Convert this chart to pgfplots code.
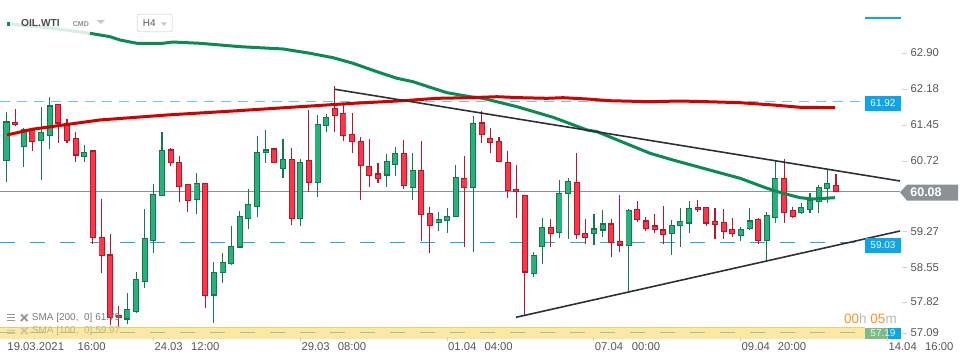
\documentclass[border=0pt]{standalone}
\usepackage{fontspec}
\setmainfont{Liberation Sans}
\usepackage{pgfplots}
\usepackage{pgfplotstable}
\pgfplotsset{compat=1.18}

\definecolor{gbody}{HTML}{26B27A}
\definecolor{gline}{HTML}{15774B}
\definecolor{rbody}{HTML}{FF3548}
\definecolor{rline}{HTML}{B3182C}
\definecolor{smag}{HTML}{0B8A52}
\definecolor{smagl}{HTML}{D6EDE1}
\definecolor{smar}{HTML}{D30000}
\definecolor{trend}{HTML}{2B3038}
\definecolor{lblue}{HTML}{66C7F2}
\definecolor{dblue}{HTML}{1CA9EC}
\definecolor{boxblue}{HTML}{0BA5E8}
\definecolor{pricegray}{HTML}{8A9298}
\definecolor{bandfill}{HTML}{FBE9A3}
\definecolor{bandline}{HTML}{F1D05E}
\definecolor{banddash}{HTML}{9CC49C}
\definecolor{txt}{HTML}{555555}
\definecolor{orng}{HTML}{F7941D}
\definecolor{hgray}{HTML}{B8B8B8}
\definecolor{leg}{HTML}{7A7A7A}
\definecolor{legf}{HTML}{C2B587}
\definecolor{ticklight}{HTML}{D0D0D0}
\definecolor{boxgreen}{HTML}{7DB98A}

\newcommand{\fs}[1]{\fontsize{#1bp}{#1bp}\selectfont}

% green (rising) candles: index, open, high, low, close
\pgfplotstableread{
i o h l c
0 60.70 61.70 60.27 61.49
2 60.99 61.37 60.58 61.33
4 61.11 61.79 60.31 61.28
5 61.22 62.01 60.95 61.82
9 60.79 61.02 60.68 60.87
14 57.47 58.01 57.37 57.67
15 57.63 58.43 57.60 58.28
16 58.23 59.71 58.10 59.12
17 59.07 60.23 58.82 60.02
18 59.99 61.28 59.98 60.91
22 59.91 60.46 59.61 60.24
24 57.96 58.63 57.40 58.42
25 58.42 58.81 58.20 58.63
26 58.61 59.37 58.57 58.96
27 58.94 59.68 58.92 59.57
28 59.52 60.12 59.31 59.81
29 59.76 61.21 59.56 60.87
30 60.87 61.33 60.66 60.92
32 60.55 61.15 60.34 60.73
34 59.53 60.73 59.36 60.67
36 60.26 61.64 59.97 61.45
37 61.42 61.65 61.29 61.59
44 60.41 60.84 60.17 60.69
45 60.63 60.98 60.40 60.85
47 60.16 60.85 59.90 60.51
50 59.45 59.65 59.27 59.51
51 59.48 59.74 59.22 59.57
52 59.56 60.61 59.55 60.36
54 60.16 61.62 58.83 61.47
61 58.40 58.83 58.32 58.76
62 58.95 59.53 58.59 59.34
64 59.24 60.31 59.13 60.04
65 60.04 60.36 59.10 60.27
68 59.22 59.61 58.99 59.31
69 59.29 59.70 59.14 59.41
72 58.98 59.71 58.05 59.68
77 59.22 59.49 58.78 59.38
78 59.38 59.74 58.95 59.46
79 59.43 59.88 59.22 59.73
85 59.18 59.34 59.07 59.29
86 59.32 59.73 59.29 59.47
88 59.08 59.65 58.64 59.58
89 59.55 60.72 59.44 60.34
92 59.65 59.83 59.62 59.75
93 59.71 60.04 59.63 59.90
94 59.87 60.21 59.63 60.15
95 60.14 60.53 59.83 60.23
}\greentab

% red (falling) candles
\pgfplotstableread{
i o h l c
1 61.49 61.76 61.41 61.44
3 61.33 61.35 60.91 61.10
6 61.85 61.86 61.06 61.47
7 61.45 61.55 61.07 61.11
8 61.16 61.28 60.68 60.82
10 60.90 60.92 59.00 59.14
11 59.14 59.93 58.42 58.76
12 58.78 59.21 57.35 57.51
13 57.54 57.74 57.31 57.51
19 60.92 60.97 60.60 60.67
20 60.67 60.80 59.85 60.18
21 60.22 60.23 59.66 59.89
23 60.24 60.25 57.69 57.95
31 60.94 60.94 60.66 60.67
33 60.73 60.96 59.38 59.53
35 60.71 61.74 60.07 60.26
38 61.77 62.23 61.29 61.62
39 61.67 61.89 61.11 61.22
40 61.23 61.67 60.87 61.09
41 61.10 61.18 59.90 60.60
42 60.59 61.15 60.17 60.40
43 60.43 60.66 60.24 60.34
46 60.85 61.13 60.12 60.19
48 60.51 61.11 59.07 59.61
49 59.63 59.75 58.81 59.38
53 60.34 60.80 58.95 60.16
55 61.47 61.72 61.07 61.23
56 61.16 61.38 60.87 61.08
57 61.10 61.18 60.67 60.68
58 60.67 60.90 59.95 60.09
59 60.12 60.62 59.54 60.07
60 59.99 60.00 57.55 58.43
63 59.34 59.51 58.94 59.22
66 60.26 60.85 59.10 59.20
67 59.22 59.51 59.00 59.14
70 59.41 59.51 58.73 59.04
71 59.06 60.00 58.83 58.98
73 59.71 59.88 59.45 59.51
74 59.47 59.56 59.27 59.32
75 59.37 59.62 59.23 59.30
76 59.29 59.78 59.00 59.19
80 59.75 59.90 59.66 59.71
81 59.75 59.76 59.37 59.43
82 59.47 59.73 59.10 59.41
83 59.44 59.71 59.10 59.25
84 59.30 59.54 59.15 59.22
87 59.51 59.53 59.00 59.08
90 60.34 60.73 59.43 59.65
91 59.68 59.75 59.53 59.56
96 60.19 60.43 60.07 60.08
}\redtab

\pgfplotsset{
  nomark/.style={only marks, mark=*, mark size=0pt, mark options={draw opacity=0, fill opacity=0}, forget plot},
  wick/.style={nomark,
    error bars/.cd, y dir=both, y explicit, error mark=none,
    error bar style={draw=#1, line width=1.1bp}},
  bodyout/.style={nomark,
    error bars/.cd, y dir=both, y explicit, error mark=none,
    error bar style={draw=#1, line width=6bp, line cap=butt}},
  bodyin/.style={nomark,
    error bars/.cd, y dir=both, y explicit, error mark=none,
    error bar style={draw=#1, line width=4.2bp, line cap=butt}},
}

\begin{document}
\begin{tikzpicture}
% bottom yellow band
\fill[bandfill] (0bp,25bp) rectangle (865bp,36.7bp);
\draw[bandline, line width=0.9bp] (0bp,36.7bp) -- (865bp,36.7bp);

\begin{axis}[at={(0bp,0bp)}, anchor=south west, scale only axis,
  width=970bp, height=364bp,
  xmin=-0.7523, xmax=111.5162, ymin=56.5530, ymax=63.9816,
  hide axis, clip=false]

% price levels
\addplot[pricegray, line width=1.1bp] coordinates {(-0.7523,60.08) (103.41,60.08)};
\addplot[lblue, line width=1bp, dash pattern=on 10bp off 7bp] coordinates {(-0.7523,61.92) (99.36,61.92)};
\addplot[dblue, line width=1bp, dash pattern=on 15bp off 15bp] coordinates {(-0.7523,59.03) (99.36,59.03)};
\addplot[banddash, line width=1bp, dash pattern=on 15bp off 15bp] coordinates {(-0.7523,57.19) (99.36,57.19)};

% wicks
\addplot[wick=gline] table[x=i, y expr={(\thisrow{h}+\thisrow{l})/2}, y error expr={(\thisrow{h}-\thisrow{l})/2}] {\greentab};
\addplot[wick=rline] table[x=i, y expr={(\thisrow{h}+\thisrow{l})/2}, y error expr={(\thisrow{h}-\thisrow{l})/2}] {\redtab};
% bodies
\addplot[bodyout=gline] table[x=i, y expr={(\thisrow{o}+\thisrow{c})/2}, y error expr={abs(\thisrow{c}-\thisrow{o})/2+0.012}] {\greentab};
\addplot[bodyin=gbody] table[x=i, y expr={(\thisrow{o}+\thisrow{c})/2}, y error expr={max(abs(\thisrow{c}-\thisrow{o})/2-0.012,0)}] {\greentab};
\addplot[bodyout=rline] table[x=i, y expr={(\thisrow{o}+\thisrow{c})/2}, y error expr={abs(\thisrow{c}-\thisrow{o})/2+0.012}] {\redtab};
\addplot[bodyin=rbody] table[x=i, y expr={(\thisrow{o}+\thisrow{c})/2}, y error expr={max(abs(\thisrow{c}-\thisrow{o})/2-0.012,0)}] {\redtab};

% SMA 100
\addplot[smagl, line width=3bp] coordinates {(0.405,63.492) (5.03,63.41) (9.66,63.302)};
\addplot[smag, line width=3bp, line join=round] coordinates {
(9.66,63.302) (11.98,63.233) (13.14,63.165) (15.10,63.098) (18.11,63.098)
(19.27,63.124) (22.40,63.098) (27.02,63.029) (32.00,62.982) (35.13,62.894)
(37.79,62.804) (40.10,62.690) (42.88,62.518) (45.19,62.384) (47.05,62.314)
(49.02,62.200) (50.98,62.090) (53.65,62.008) (55.15,61.975) (59.09,61.804)
(63.25,61.588) (67.19,61.329) (68.35,61.294) (74.48,60.853) (77.14,60.716)
(81.08,60.526) (84.90,60.343) (88.02,60.139) (89.87,60.037) (91.84,59.947)
(93.35,59.920) (95.89,59.947)};
% SMA 200
\addplot[smar, line width=3bp, line join=round] coordinates {
(0.06,61.227) (2.95,61.343) (7.00,61.441) (10.82,61.533) (18.58,61.635)
(26.22,61.716) (33.97,61.804) (40.10,61.873) (45.89,61.926) (49.83,61.975)
(53.65,61.988) (56.77,62.008) (59.43,61.988) (62.56,61.975) (64.41,61.988)
(67.19,61.961) (69.85,61.926) (74.48,61.906) (77.95,61.920) (81.08,61.906)
(84.90,61.886) (88.72,61.839) (91.84,61.792) (95.89,61.784)};
% triangle
\addplot[trend, line width=1.6bp] coordinates {(38.02,62.159) (103.41,60.288)};
\addplot[trend, line width=1.6bp] coordinates {(58.97,57.506) (103.41,59.267)};
\end{axis}

% header
\fill[smag] (6.7bp,338.3bp) rectangle (10bp,341.7bp);
\node[anchor=west, inner sep=0, text=black!70, font=\fs{10.2}\bfseries] at (21bp,341bp) {OIL.WTI};
\node[anchor=west, inner sep=0, text=black!45, font=\fs{7}\bfseries] at (72.7bp,339.8bp) {CMD};
\fill[black!22] (96.7bp,344bp) -- (105bp,344bp) -- (100.85bp,340bp) -- cycle;
\draw[black!14, rounded corners=2bp, line width=0.8bp] (137.3bp,332.3bp) rectangle (172.3bp,349.7bp);
\node[anchor=west, inner sep=0, text=black!65, font=\fs{10}] at (142.7bp,341bp) {H4};
\fill[black!22] (161bp,341.7bp) -- (166.7bp,341.7bp) -- (163.85bp,338bp) -- cycle;
\draw[boxblue, line width=2bp] (865bp,345.7bp) -- (901bp,345.7bp);

% right price scale
\foreach \yy/\lab in {311/62.90, 275/62.18, 239/61.45, 203/60.72, 132.3/59.27, 96.3/58.55, 62/57.82, 31/57.09}{
  \draw[ticklight, line width=0.8bp] (902bp,\yy bp) -- (907bp,\yy bp);
  \node[anchor=west, inner sep=0, text=txt, font=\fs{11.3}] at (910.5bp,\yy bp) {\lab};
}
\fill[boxblue] (865bp,253.3bp) rectangle (901bp,268bp);
\node[text=white, inner sep=0, font=\fs{10}] at (883bp,260.7bp) {61.92};
\fill[boxblue] (865bp,111.3bp) rectangle (901bp,125.7bp);
\node[text=white, inner sep=0, font=\fs{10}] at (883bp,118.5bp) {59.03};
\fill[boxgreen] (865bp,25bp) rectangle (888bp,36.3bp);
\fill[boxblue] (888bp,25bp) rectangle (901bp,36.3bp);
\node[text=white!90!green, inner sep=0, font=\fs{10}] at (883bp,30.6bp) {57.19};
\fill[pricegray] (900bp,171.7bp) -- (907bp,179.3bp) -- (958bp,179.3bp) -- (958bp,163.3bp) -- (907bp,163.3bp) -- cycle;
\node[text=white, inner sep=0, font=\fs{12.5}\bfseries] at (926bp,171.5bp) {60.08};

% countdown
\node[anchor=west, inner sep=0, font=\fs{13.5}] at (844bp,45bp) {\textcolor{orng}{00}\textcolor{hgray}{h} \textcolor{orng}{05}\textcolor{hgray}{m}};

% legend
\foreach \yy/\cc/\txt in {46.3/leg/{SMA [200,\ \ 0] 61.79}, 33.3/legf/{SMA [100,\ \ 0] 59.97}}{
  \draw[\cc!80, line width=1.3bp] (7bp,\yy bp+3bp) -- (15bp,\yy bp+3bp) (7bp,\yy bp) -- (15bp,\yy bp) (7bp,\yy bp-3bp) -- (15bp,\yy bp-3bp);
  \draw[\cc!80, line width=1.8bp] (21bp,\yy bp+3.3bp) -- (27.5bp,\yy bp-3.3bp) (21bp,\yy bp-3.3bp) -- (27.5bp,\yy bp+3.3bp);
  \node[anchor=west, inner sep=0, text=\cc, font=\fs{10}] at (31.7bp,\yy bp) {\txt};
}

% time axis
\foreach \xx in {153.4,300.3,447,593.7,740.5,887.5}{
  \draw[ticklight, line width=0.8bp] (\xx bp,23bp) -- (\xx bp,27bp);
}
\foreach \xx/\lab in {7.3/19.03.2021, 77.3/16:00, 154.3/24.03, 191/12:00, 301.3/29.03, 337.7/08:00, 448/01.04, 484.3/04:00, 594.7/07.04, 631.7/00:00, 741.5/09.04, 777.7/20:00, 888.3/14.04, 925/16:00}{
  \node[anchor=west, inner sep=0, text=txt, font=\fs{11.3}] at (\xx bp,17.3bp) {\lab};
}

\pgfresetboundingbox
\useasboundingbox (0,0) rectangle (970bp,364bp);
\end{tikzpicture}
\end{document}
